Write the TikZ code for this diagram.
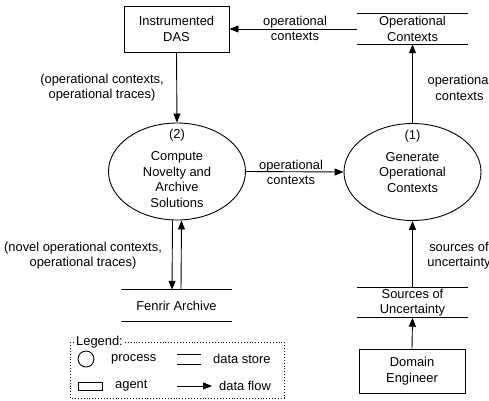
\documentclass[tikz,border=0pt]{standalone}
\usepackage{fontspec}
\setmainfont{Liberation Sans}
\usetikzlibrary{shapes.geometric,arrows.meta,calc}
\begin{document}
\begin{tikzpicture}[x=1pt,y=-1pt,
  every node/.style={font=\fontsize{12.9}{15.5}\selectfont, inner sep=0pt, align=center},
  ln/.style={line width=0.9pt},
  flow/.style={draw, ln, -{Triangle[length=9pt,width=7pt]}},
  agentbox/.style={draw, ln, minimum width=105pt, minimum height=46pt},
  proc/.style={draw, ellipse, ln, minimum width=137pt, minimum height=97pt},
  store/.style={minimum width=111pt, minimum height=30pt},
  ]
\useasboundingbox (0,0) rectangle (489,400);

% agents
\node[agentbox] (das) at (176.5,29) {Instrumented\\DAS};
\node[agentbox, minimum width=106pt, minimum height=44pt] (de) at (412,371) {Domain\\Engineer};

% processes
\node[proc] (p2) at (177,171.5) {};
\node (p2n) at (177,135) {(2)};
\node (p2t) at (177,179.5) {Compute\\Novelty and\\Archive\\Solutions};
\node[proc] (p1) at (412.5,172) {};
\node (p1n) at (412.5,136) {(1)};
\node (p1t) at (412.5,172.5) {Generate\\Operational\\Contexts};

% data stores
\node[store] (os) at (412.5,29) {Operational\\Contexts};
\node[store] (su) at (412.5,302.5) {Sources of\\Uncertainty};
\node[store, minimum height=31pt] (fa) at (176.5,305.5) {Fenrir Archive};
\foreach \s in {os,su,fa}{
  \draw[ln] (\s.north west) -- (\s.north east);
  \draw[ln] (\s.south west) -- (\s.south east);
}

% data flows
\draw[flow] (os.west) -- (das.east);
\node (l1) at (295,28.5) {operational\\contexts};
\draw[flow] (das.south) -- (p2.north);
\node (l2) at (102,87.5) {(operational contexts,\\operational traces)};
\draw[flow] (p2.east) -- (p1.west);
\node (l3) at (291,172.5) {operational\\contexts};
\draw[flow] (p1.north) -- (os.south);
\node (l4) at (459.5,88) {operational\\contexts};
\draw[flow] (su.north) -- (p1.south);
\node (l5) at (459,255.5) {sources of\\uncertainty};
\draw[flow] (de.north) -- (su.south);
\draw[flow] ([xshift=-4.5pt]p2.south) -- ([xshift=-4.5pt]fa.north);
\draw[flow] ([xshift=4.5pt]fa.north) -- ([xshift=4.5pt]p2.south);
\node (l6) at (83,255.5) {(novel operational contexts,\\operational traces)};

% legend
\draw[ln, dotted] (70,342) rectangle (284,398);
\node[fill=white, inner xsep=1pt, anchor=west] (lg) at (75,342) {Legend:};
\draw[ln] (86,359) circle (8);
\node[anchor=west] (lgp) at (111,359) {process};
\draw[ln] (177,354) -- (201,354);
\draw[ln] (177,364) -- (201,364);
\node[anchor=west] (lgs) at (213,359) {data store};
\draw[ln] (78,382) rectangle (102,390);
\node[anchor=west] (lga) at (115,386) {agent};
\coordinate (fs) at (177,386);
\coordinate (fe) at (212,386);
\draw[flow] (fs) -- (fe);
\node[anchor=west] (lgf) at (219,386) {data flow};
\end{tikzpicture}
\end{document}
